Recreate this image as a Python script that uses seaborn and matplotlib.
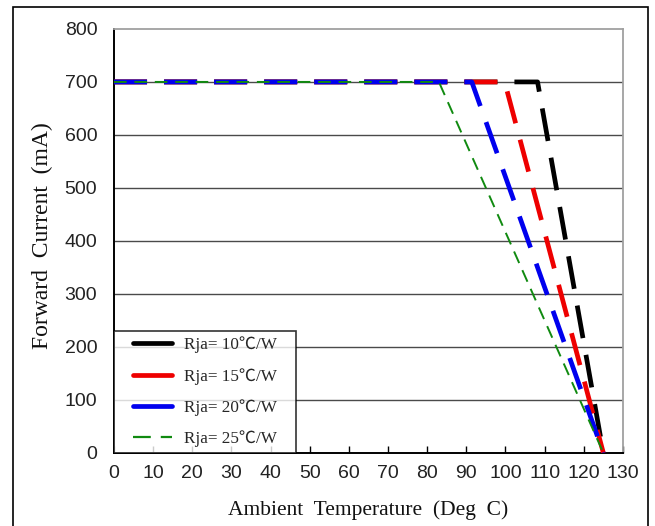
import matplotlib
matplotlib.use("Agg")
import matplotlib.pyplot as plt
from matplotlib.lines import Line2D
from matplotlib.patches import Rectangle
from matplotlib.legend_handler import HandlerLine2D
import seaborn as sns
import pandas as pd

# Derating curves: forward current vs ambient temperature for several Rja values
series_labels = ["Rja= 10℃/W", "Rja= 15℃/W", "Rja= 20℃/W", "Rja= 25℃/W"]
start_temp = [0, 0, 0, 0]
knee_temp = [108.2, 99.8, 91.4, 83.0]
end_temp = [125, 125, 125, 125]
max_current = [700, 700, 700, 700]
min_current = [0, 0, 0, 0]

x_ticks = list(range(0, 131, 10))
y_ticks = list(range(0, 801, 100))

colors = ["#000000", "#ee0000", "#0000ee", "#108a10"]
widths = [3.4, 3.4, 3.4, 1.4]
dash_patterns = [(0, (7, 3.6)), (0, (7, 3.6)), (0, (7, 3.6)), (0, (6.5, 4))]

rows = []
for lab, t0, tk, te, imax, imin in zip(series_labels, start_temp, knee_temp,
                                         end_temp, max_current, min_current):
    rows += [(lab, t0, imax), (lab, tk, imax), (lab, te, imin)]
df = pd.DataFrame(rows, columns=["series", "temp", "current"])

sns.set_style("white")
serif = ["Liberation Serif", "Noto Sans CJK SC", "DejaVu Sans"]
sans = ["Liberation Sans", "DejaVu Sans"]

fig = plt.figure(figsize=(6.55, 5.26), dpi=100)
ax = fig.add_axes([0.174, 0.139, 0.777, 0.806])

# Draw 10 ℃/W first so the higher-Rja curves lie on top along the plateau
for i in range(4):
    sub = df[df["series"] == series_labels[i]]
    sns.lineplot(data=sub, x="temp", y="current", ax=ax, color=colors[i],
                 lw=widths[i], linestyle=dash_patterns[i], sort=False,
                 estimator=None, legend=False, zorder=3 + i)

ax.set_xlim(0, 130)
ax.set_ylim(0, 800)
ax.set_xticks(x_ticks)
ax.set_yticks(y_ticks)
for yv in y_ticks[1:-1]:
    ax.axhline(yv, color="#4a4a4a", lw=1.0, zorder=1)

for side in ["top", "right"]:
    ax.spines[side].set_color("#a0a0a0")
    ax.spines[side].set_linewidth(1.3)
for side in ["left", "bottom"]:
    ax.spines[side].set_color("#000000")
    ax.spines[side].set_linewidth(1.4)

ax.tick_params(axis="x", direction="in", length=5, width=1, color="black",
               bottom=True, pad=9)
ax.tick_params(axis="y", length=0, pad=12)
for lbl in ax.get_xticklabels() + ax.get_yticklabels():
    lbl.set_family(sans)
    lbl.set_fontsize(14)
    lbl.set_color("#222222")

ax.set_xlabel("Ambient  Temperature  (Deg  C)", family=serif, fontsize=15.5,
              color="#111111", labelpad=13)
ax.set_ylabel("Forward  Current  (mA)", family=serif, fontsize=17,
              color="#111111", labelpad=8)
ax.yaxis.label.set_y(0.512)

handles = [Line2D([], [], color=colors[i], lw=widths[i]) for i in range(3)]
handles.append(Line2D([], [], color=colors[3], lw=1.6, linestyle=(0, (8, 4.5))))
pad_handler = HandlerLine2D(xpad=0.8)
leg = ax.legend(handles, series_labels, loc="lower left",
                bbox_to_anchor=(0, 0, 182 / 509, 0.3), mode="expand",
                borderaxespad=0, frameon=True, fancybox=False,
                edgecolor="black", handlelength=3.08, handletextpad=0.66,
                labelspacing=0.85, borderpad=0.34,
                handler_map={h: pad_handler for h in handles},
                prop={"family": serif, "size": 12.3})
leg.get_frame().set_linewidth(1.2)
leg.set_zorder(10)

# Outer frame around the whole figure
fig.patches.append(Rectangle((13 / 655, -0.05), (648 - 13) / 655, 1.05 - 7 / 526,
                             transform=fig.transFigure, fill=False,
                             edgecolor="black", lw=1.2))

fig.savefig("out.png", dpi=100)
